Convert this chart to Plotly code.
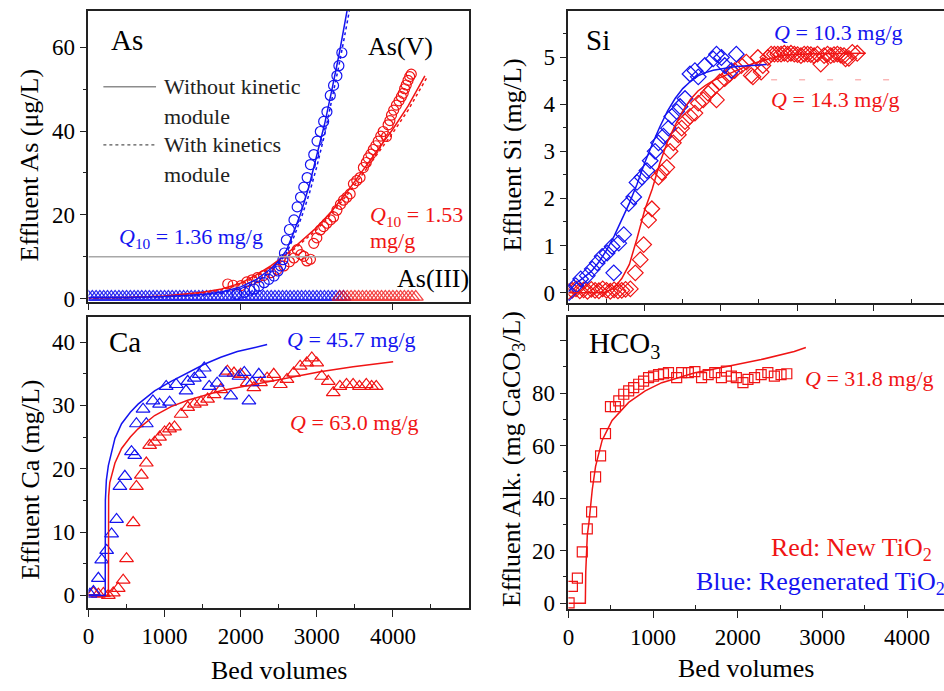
import plotly.graph_objects as go

# ---------------- data ----------------
# As(V) breakthrough, regenerated TiO2 (blue) and new TiO2 (red)
asv_regen_bv = [1950, 2050, 2120, 2177, 2240, 2308, 2370, 2438, 2490, 2525, 2555, 2575, 2600, 2640,
                2700, 2742, 2786, 2829, 2873, 2916, 2960, 3003, 3046, 3090, 3133, 3177, 3220, 3264,
                3290, 3329]
asv_regen_c = [1.0, 1.5, 2.0, 2.3, 3.0, 3.8, 4.6, 5.4, 6.6, 7.8, 9.3, 10.9, 14.0, 16.5,
               18.8, 21.9, 24.2, 26.6, 28.9, 32.0, 34.4, 37.6, 39.9, 42.3, 44.6, 48.5, 50.9, 53.2,
               55.6, 58.7]
asv_new_bv = [1830, 1900, 2004, 2080, 2150, 2220, 2300, 2395, 2480, 2568, 2640, 2699, 2742, 2790,
              2829, 2870, 2916, 2960, 3000, 3046, 3090, 3133, 3180, 3220, 3264, 3310, 3351, 3395,
              3438, 3481, 3525, 3568, 3612, 3650, 3677, 3710, 3742, 3775, 3807, 3840, 3872, 3915,
              3937, 3960, 3981, 4010, 4046, 4080, 4111, 4135, 4154, 4175, 4198, 4220, 4241]
asv_new_c = [3.5, 3.2, 3.1, 4.0, 4.5, 5.0, 5.5, 6.2, 7.0, 7.8, 8.8, 9.7, 11.7, 10.5,
             10.1, 9.0, 9.4, 13.2, 14.5, 16.4, 17.2, 18.0, 18.8, 19.5, 21.1, 22.5, 23.5, 24.2,
             25.0, 27.4, 28.2, 28.9, 31.3, 32.5, 33.6, 34.5, 35.6, 36.5, 37.6, 38.8, 39.9, 38.7,
             41.5, 42.5, 43.8, 45.0, 46.2, 47.2, 48.2, 49.0, 50.1, 51.0, 52.1, 53.0, 53.6]

# As(III): below detection over the whole run
asiii_regen_bv = [0, 50, 100, 150, 200, 250, 300, 350, 400, 450, 500, 550, 600, 650, 700, 750,
                  800, 850, 900, 950, 1000, 1050, 1100, 1150, 1200, 1250, 1300, 1350, 1400, 1450,
                  1500, 1550, 1600, 1650, 1700, 1750, 1800, 1850, 1900, 1950, 2000, 2050, 2100,
                  2150, 2200, 2250, 2300, 2350, 2400, 2450, 2500, 2550, 2600, 2650, 2700, 2750,
                  2800, 2850, 2900, 2950, 3000, 3050, 3100, 3150, 3200, 3250, 3300, 3350]
asiii_regen_c = [0.4, 0.4, 0.4, 0.4, 0.4, 0.4, 0.4, 0.4, 0.4, 0.4, 0.4, 0.4, 0.4, 0.4, 0.4, 0.4,
                 0.4, 0.4, 0.4, 0.4, 0.4, 0.4, 0.4, 0.4, 0.4, 0.4, 0.4, 0.4, 0.4, 0.4,
                 0.4, 0.4, 0.4, 0.4, 0.4, 0.4, 0.4, 0.4, 0.4, 0.4, 0.4, 0.4, 0.4,
                 0.4, 0.4, 0.4, 0.4, 0.4, 0.4, 0.4, 0.4, 0.4, 0.4, 0.4, 0.4, 0.4,
                 0.4, 0.4, 0.4, 0.4, 0.4, 0.4, 0.4, 0.4, 0.4, 0.4, 0.4, 0.4]
asiii_new_bv = [3300, 3350, 3400, 3450, 3500, 3550, 3600, 3650, 3700, 3750, 3800, 3850, 3900,
                3950, 4000, 4050, 4100, 4150, 4200, 4250, 4300]
asiii_new_c = [0.4, 0.4, 0.4, 0.4, 0.4, 0.4, 0.4, 0.4, 0.4, 0.4, 0.4, 0.4, 0.4,
               0.4, 0.4, 0.4, 0.4, 0.4, 0.4, 0.4, 0.4]

# As model curves (solid: without kinetic module, dotted: with kinetics module)
as_regen_fit_bv = [0, 500, 1000, 1500, 1750, 2000, 2200, 2400, 2500, 2600, 2700, 2800, 2900, 3000,
                   3100, 3200, 3300, 3400]
as_regen_fit_c = [0.3, 0.3, 0.5, 1.0, 1.6, 2.8, 4.5, 7.2, 9.0, 11.5, 16, 21, 27, 34,
                  41.5, 50, 59, 69]
as_regen_kin_bv = [0, 500, 1000, 1500, 1750, 2000, 2200, 2400, 2500, 2600, 2700, 2800, 2900, 3000,
                   3100, 3200, 3300, 3400, 3440]
as_regen_kin_c = [0.2, 0.2, 0.4, 0.8, 1.3, 2.4, 4.0, 6.7, 8.5, 10.8, 14.8, 19.5, 25, 31.5,
                  39, 47.5, 56.5, 66, 70]
as_new_fit_bv = [0, 500, 1000, 1500, 1750, 2000, 2200, 2400, 2600, 2800, 3000, 3200, 3400, 3600,
                 3800, 4000, 4200, 4400, 4420]
as_new_fit_c = [0.2, 0.3, 0.6, 1.5, 2.3, 3.7, 5.6, 7.9, 10.6, 13.8, 17, 21, 25.5, 30.5,
                35.5, 40.5, 46, 52.5, 53.2]
as_new_kin_bv = [0, 500, 1000, 1500, 1750, 2000, 2200, 2400, 2600, 2800, 3000, 3200, 3400, 3600,
                 3800, 4000, 4200, 4400, 4440]
as_new_kin_c = [0.1, 0.2, 0.5, 1.3, 2.1, 3.4, 5.2, 7.5, 10.2, 13.3, 16.5, 20.4, 24.8, 29.7,
                34.6, 39.6, 45, 51.3, 52.6]
as_mcl = 10  # µg/L

# Si breakthrough
si_regen_bv = [9, 96, 161, 248, 313, 378, 443, 508, 574, 595, 661, 726, 791, 857, 900, 965, 1030,
               1073, 1138, 1182, 1247, 1313, 1356, 1421, 1465, 1530, 1595, 1660, 1704, 1790, 1900,
               1943, 2008, 2051, 2138, 2203]
si_regen_c = [0.0, 0.15, 0.29, 0.36, 0.5, 0.63, 0.77, 0.84, 0.98, 0.42, 1.05, 1.23, 1.89, 2.03, 2.34,
              2.45, 2.59, 2.8, 3.0, 3.18, 3.32, 3.49, 3.74, 3.84, 3.95, 4.12, 4.64, 4.71, 4.58, 4.82,
              4.96, 5.06, 4.99, 4.82, 4.71, 5.06]
si_new_bv = [0, 50, 100, 150, 200, 250, 300, 350, 400, 450, 500, 550, 600, 650, 700, 750,
             813, 878, 943, 987, 1052, 1095, 1182, 1226, 1291, 1334, 1377, 1443, 1486, 1530, 1595,
             1660, 1704, 1769, 1834, 1877, 1943, 1986, 2051, 2116, 2181, 2268, 2334, 2399, 2421,
             2486, 2529, 2551, 2617, 2660, 2703, 2747, 2790, 2833, 2877, 2920, 2964, 3007, 3051,
             3094, 3138, 3181, 3224, 3268, 3311, 3355, 3400, 3442, 3485, 3529, 3572, 3616, 3637,
             3680, 3725, 3790]
si_new_c = [0.02, 0.05, 0.08, 0.04, 0.06, 0.03, 0.07, 0.05, 0.04, 0.08, 0.05, 0.03, 0.06, 0.04,
            0.05, 0.07, 0.08, 0.42, 0.7, 1.02, 1.54, 1.78, 2.45, 2.55, 2.66, 3.0, 3.18, 3.35, 3.49,
            3.63, 3.74, 3.81, 4.02, 4.09, 4.23, 4.3, 4.09, 4.47, 4.54, 4.64, 4.71, 4.82, 4.89, 4.61,
            4.58, 4.99, 4.68, 4.82, 4.99, 5.06, 5.06, 5.06, 5.06, 5.08, 5.06, 5.08, 5.06, 5.05, 5.03,
            5.06, 5.06, 5.05, 5.03, 5.06, 4.85, 5.03, 5.06, 5.03, 5.05, 5.06, 5.04, 5.03, 4.96,
            4.97, 5.1, 5.08]
si_regen_fit_bv = [0, 100, 200, 300, 400, 500, 600, 700, 800, 900, 1000, 1100, 1200, 1300, 1400,
                   1500, 1600, 1700, 1800, 1900, 2000, 2200, 2400, 2600]
si_regen_fit_c = [0.02, 0.2, 0.32, 0.45, 0.65, 0.9, 1.2, 1.55, 1.9, 2.3, 2.75, 3.15, 3.52, 3.85,
                  4.12, 4.33, 4.48, 4.6, 4.67, 4.72, 4.75, 4.8, 4.82, 4.84]
si_new_fit_bv = [0, 450, 500, 600, 700, 800, 900, 1000, 1100, 1200, 1300, 1400, 1500, 1600, 1700,
                 1800, 1900, 2000, 2100, 2200, 2300, 2400, 2500, 2600, 2700, 2800, 2900, 3200,
                 3600, 3900]
si_new_fit_c = [0, 0, 0.02, 0.1, 0.3, 0.6, 1.15, 1.75, 2.2, 2.75, 3.2, 3.55, 3.85, 4.1, 4.28,
                4.4, 4.5, 4.57, 4.65, 4.72, 4.78, 4.85, 4.9, 4.95, 4.99, 5.03, 5.05, 5.07,
                5.08, 5.08]

# Ca breakthrough
ca_regen_bv = [20, 65, 130, 174, 239, 304, 369, 413, 478, 565, 608, 630, 717, 760, 847, 934, 1021,
               1065, 1152, 1282, 1304, 1391, 1456, 1521, 1586, 1690, 1804, 1869, 1977, 2047, 2108,
               2151, 2238]
ca_regen_c = [0.2, 0.6, 2.7, 5.6, 7.1, 9.7, 12.0, 17.2, 18.8, 22.7, 22.1, 27.1, 29.4, 27.1, 30.7,
              30.2, 33.0, 30.5, 33.3, 32.3, 33.8, 34.3, 34.9, 35.9, 33.0, 33.5, 35.1, 31.5, 34.6,
              35.2, 30.7, 33.6, 34.9]
ca_new_bv = [65, 130, 196, 261, 326, 391, 456, 500, 587, 630, 695, 760, 804, 869, 934, 1000, 1065,
             1130, 1217, 1304, 1391, 1478, 1565, 1651, 1738, 1825, 1912, 1999, 2086, 2173, 2260,
             2347, 2434, 2521, 2608, 2695, 2781, 2868, 2934, 2999, 3064, 3151, 3216, 3303, 3390,
             3477, 3560, 3650, 3720, 3781]
ca_new_c = [0.4, 0.2, 0.3, 0.0, 0.4, 1.1, 2.4, 5.8, 11.5, 17.2, 19.0, 20.9, 23.7, 24.2, 25.0, 25.8,
            26.3, 26.6, 28.6, 29.7, 30.2, 30.5, 31.0, 31.7, 32.5, 35.4, 35.1, 34.9, 33.6, 32.8,
            33.6, 34.3, 34.9, 33.3, 34.1, 35.1, 36.2, 36.7, 37.5, 36.7, 34.6, 33.8, 32.0, 33.0,
            33.3, 33.3, 33.0, 33.3, 33.0, 33.0]
ca_regen_fit_bv = [0, 220, 222, 235, 261, 300, 348, 435, 550, 652, 760, 869, 1086, 1304, 1521,
                   1738, 1956, 2173, 2347]
ca_regen_fit_c = [0, 0, 15, 18.2, 20.5, 22.5, 24.8, 27.1, 28.9, 30.2, 31.3, 32.3, 33.8, 35.2, 36.5,
                  37.6, 38.5, 39.1, 39.6]
ca_new_fit_bv = [0, 262, 265, 280, 348, 435, 550, 652, 869, 1086, 1304, 1738, 2173, 2608, 3042,
                 3477, 3911, 4003]
ca_new_fit_c = [0, 0, 15.7, 17.8, 20.9, 23.2, 25.0, 26.3, 28.4, 29.8, 30.8, 32.3, 33.3, 34.3, 35.3,
                36.1, 36.8, 36.9]

# Alkalinity (HCO3) breakthrough, new TiO2
alk_new_bv = [8, 47, 106, 164, 223, 274, 321, 380, 438, 497, 555, 595, 654, 712, 771, 830, 888,
              947, 1006, 1065, 1123, 1182, 1279, 1338, 1417, 1494, 1573, 1651, 1729, 1808, 1866,
              1925, 1984, 2062, 2121, 2199, 2277, 2356, 2433, 2512, 2580]
alk_new_c = [0.1, 6.4, 9.5, 19.5, 28.3, 34.8, 48.1, 56.1, 64.6, 74.9, 74.9, 77.1, 79.6, 80.9,
             82.1, 83.4, 84.6, 85.9, 86.5, 87.1, 87.4, 87.8, 85.9, 87.8, 87.8, 88.2, 85.9, 87.1,
             87.8, 85.9, 88.4, 86.5, 85.9, 84.0, 85.3, 85.9, 87.1, 87.8, 86.5, 87.1, 87.4]
alk_fit_bv = [0, 200, 205, 223, 243, 282, 321, 399, 516, 712, 907, 1103, 1299, 1494, 1886, 2277,
              2668, 2805]
alk_fit_c = [0, 0, 12, 25.8, 30.8, 43.3, 52.1, 62.1, 69.6, 76.5, 80.9, 84.0, 85.9, 87.8, 90.3,
             92.8, 95.9, 97.4]

# ---------------- styling ----------------
W, H = 944, 691
FONT = "Liberation Serif"
BLUE = "#1414f0"
RED = "#f01414"
AXC = "#222222"


def px(x):
    return x / W


def py(y):
    return 1 - y / H


fig = go.Figure()


def markers(x, y, sym, size, color, ax, width=1.2, opacity=1.0):
    fig.add_trace(go.Scatter(
        x=x, y=y, mode="markers", xaxis=ax[0], yaxis=ax[1], opacity=opacity,
        marker=dict(symbol=sym, size=size, color=color, line=dict(width=width, color=color)),
        showlegend=False, hoverinfo="skip"))


def curve(x, y, color, ax, dash="solid", width=1.5):
    fig.add_trace(go.Scatter(
        x=x, y=y, mode="lines", xaxis=ax[0], yaxis=ax[1],
        line=dict(color=color, width=width, dash=dash),
        showlegend=False, hoverinfo="skip"))


A1, A2, A3, A4 = ("x", "y"), ("x2", "y2"), ("x3", "y3"), ("x4", "y4")

# As panel
markers(asiii_regen_bv, asiii_regen_c, "triangle-up-open", 13, BLUE, A1, 1.3, 0.9)
markers(asiii_new_bv, asiii_new_c, "triangle-up-open", 13, RED, A1, 1.3, 0.8)
markers(asv_new_bv, asv_new_c, "circle-open", 10, RED, A1)
markers(asv_regen_bv, asv_regen_c, "circle-open", 10, BLUE, A1)
curve(as_new_fit_bv, as_new_fit_c, RED, A1)
curve(as_new_kin_bv, as_new_kin_c, RED, A1, "dot")
curve(as_regen_fit_bv, as_regen_fit_c, BLUE, A1)
curve(as_regen_kin_bv, as_regen_kin_c, BLUE, A1, "dot")

# Si panel
markers(si_new_bv, si_new_c, "diamond-open", 12, RED, A2)
markers(si_regen_bv, si_regen_c, "diamond-open", 12, BLUE, A2)
curve(si_new_fit_bv, si_new_fit_c, RED, A2)
curve(si_regen_fit_bv, si_regen_fit_c, BLUE, A2)

# Ca panel
markers(ca_new_bv, ca_new_c, "triangle-up-open", 12, RED, A3)
markers(ca_regen_bv, ca_regen_c, "triangle-up-open", 12, BLUE, A3)
curve(ca_new_fit_bv, ca_new_fit_c, RED, A3)
curve(ca_regen_fit_bv, ca_regen_fit_c, BLUE, A3)

# HCO3 panel
markers(alk_new_bv, alk_new_c, "square-open", 10, RED, A4)
curve(alk_fit_bv, alk_fit_c, RED, A4)

tickfont = dict(family=FONT, size=23, color="black")


def axis(domain, rng, mirror=True, **kw):
    d = dict(domain=domain, range=rng, showline=True, linecolor=AXC, linewidth=1.5,
             mirror=mirror, showgrid=False, zeroline=False, ticks="outside", ticklen=7,
             tickwidth=1.4, tickcolor=AXC, tickfont=tickfont)
    d.update(kw)
    return d


XL = [px(83), px(466)]
XR = [px(566), 1.0]
YT_L = [py(306), py(11)]
YT_R = [py(307), py(11)]
YB_L = [py(617), py(322)]
YB_R = [py(618), py(322)]

minor_x = dict(ticks="inside", ticklen=4, tickwidth=1.2, tickcolor=AXC,
               tickvals=[500, 1500, 2500, 3500, 4500])

fig.update_layout(
    width=W, height=H, margin=dict(l=0, r=0, t=0, b=0),
    paper_bgcolor="white", plot_bgcolor="white",
    font=dict(family=FONT),
    xaxis=axis(XL, [0, 5000], anchor="y", tickvals=[0, 2000, 4000], showticklabels=False),
    yaxis=axis(YT_L, [-0.7, 68.7], anchor="x", tickvals=[0, 20, 40, 60],
               minor=dict(ticks="outside", ticklen=4, tickwidth=1.2, tickcolor=AXC,
                          tickvals=[10, 30, 50])),
    xaxis2=axis(XR, [0, 4928], anchor="y2", tickvals=[0, 1000, 2000, 3000, 4000],
                showticklabels=False, minor=minor_x),
    yaxis2=axis(YT_R, [-0.21, 5.98], mirror=False, anchor="x2", tickvals=[0, 1, 2, 3, 4, 5],
                minor=dict(ticks="outside", ticklen=4, tickwidth=1.2, tickcolor=AXC,
                           tickvals=[0.5, 1.5, 2.5, 3.5, 4.5, 5.5])),
    xaxis3=axis(XL, [0, 5000], anchor="y3", tickvals=[0, 1000, 2000, 3000, 4000],
                minor=minor_x),
    yaxis3=axis(YB_L, [-2.0, 43.9], anchor="x3", tickvals=[0, 10, 20, 30, 40],
                minor=dict(ticks="outside", ticklen=4, tickwidth=1.2, tickcolor=AXC,
                           tickvals=[5, 15, 25, 35])),
    xaxis4=axis(XR, [0, 4437], anchor="y4", tickvals=[0, 1000, 2000, 3000, 4000],
                minor=minor_x),
    yaxis4=axis(YB_R, [-2.25, 108.9], mirror=False, anchor="x4",
                tickvals=[0, 20, 40, 60, 80, 100], ticktext=["0", "20", "40", "60", "80", ""],
                minor=dict(ticks="outside", ticklen=4, tickwidth=1.2, tickcolor=AXC,
                           tickvals=[10, 30, 50, 70, 90])),
)

# As MCL reference line, legend keys and the faint dashed guide in the Si panel
shapes = [
    dict(type="line", xref="x", yref="y", x0=0, x1=5000, y0=as_mcl, y1=as_mcl,
         line=dict(color="#a8a8a8", width=1.3)),
    dict(type="line", xref="paper", yref="paper", x0=px(98), x1=px(151), y0=py(88), y1=py(88),
         line=dict(color="#8c8c8c", width=1.5)),
    dict(type="line", xref="paper", yref="paper", x0=px(98), x1=px(151), y0=py(147), y1=py(147),
         line=dict(color="#555555", width=1.2, dash="dot")),
    dict(type="line", xref="paper", yref="paper", x0=px(770), x1=px(906), y0=py(81), y1=py(81),
         line=dict(color="rgba(240,20,20,0.45)", width=1, dash="6px,22px")),
]
fig.update_layout(shapes=shapes)

anns = []


def text(t, x, y, size, color="black", xanchor="left", angle=0):
    anns.append(dict(text=t, x=px(x), y=py(y), xref="paper", yref="paper",
                     xanchor=xanchor, yanchor="middle", showarrow=False, textangle=angle,
                     font=dict(family=FONT, size=size, color=color)))


# panel labels
text("As", 104, 41, 29)
text("As(V)", 362, 47, 26)
text("As(III)", 391, 283, 26)
text("Si", 582, 41, 29)
text("Ca", 102, 347, 29)
text("HCO<sub>3</sub>", 585, 350, 29)

# legend text
text("Without kinetic", 157, 88, 22, "#222222")
text("module", 157, 118, 22, "#222222")
text("With kinetics", 157, 147, 22, "#222222")
text("module", 157, 177, 22, "#222222")

# capacities
text("<i>Q</i><sub>10</sub> = 1.36 mg/g", 112, 241, 22, BLUE)
text("<i>Q</i><sub>10</sub> = 1.53", 364, 219, 22, RED)
text("mg/g", 364, 244, 22, RED)
text("<i>Q</i> = 10.3 mg/g", 771, 33, 22, BLUE)
text("<i>Q</i> = 14.3 mg/g", 768, 101, 22, RED)
text("<i>Q</i> = 45.7 mg/g", 281, 344, 22, BLUE)
text("<i>Q</i> = 63.0 mg/g", 284, 429, 22, RED)
text("<i>Q</i> = 31.8 mg/g", 802, 384, 22, RED)

# material key
text("Red: New TiO<sub>2</sub>", 768, 557, 26, RED)
text("Blue: Regenerated TiO<sub>2</sub>", 692, 592, 26, BLUE)

# axis titles
text("Effluent As (μg/L)", 24, 167, 26, "black", "center", -90)
text("Effluent Si (mg/L)", 510, 157, 26, "black", "center", -90)
text("Effluent Ca (mg/L)", 25, 487, 26, "black", "center", -90)
text("Effluent Alk. (mg CaCO<sub>3</sub>/L)", 510, 466, 26, "black", "center", -90)
text("Bed volumes", 275, 680, 26, "black", "center")
text("Bed volumes", 745, 678, 26, "black", "center")

fig.update_layout(annotations=anns)

fig.write_html("out.html")
